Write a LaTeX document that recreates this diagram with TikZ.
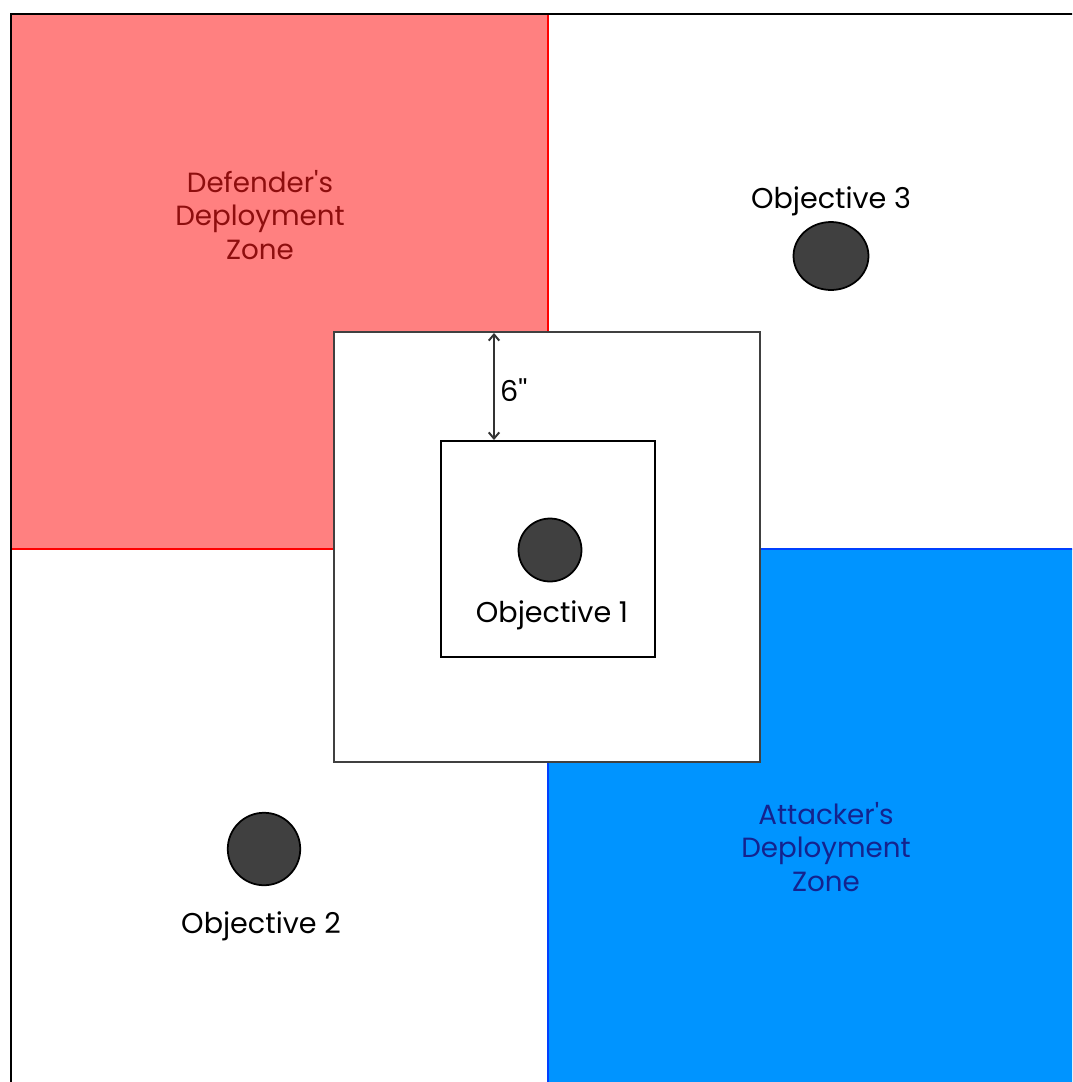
\documentclass[tikz,border=0pt]{standalone}
\usepackage{fontspec}
\setmainfont{Poppins}[Ligatures=TeXOff]
\usetikzlibrary{shapes.geometric,arrows.meta}
\definecolor{defzone}{HTML}{FF8080}
\definecolor{defline}{HTML}{FF0000}
\definecolor{deftext}{HTML}{8E0E0E}
\definecolor{attzone}{HTML}{0094FF}
\definecolor{attline}{HTML}{0040FF}
\definecolor{atttext}{HTML}{14238E}
\definecolor{objfill}{HTML}{404040}
\tikzset{
  objective/.style={draw=black, line width=1pt, fill=objfill, inner sep=0pt},
  objlabel/.style={font=\fontsize{16.3}{19}\selectfont, text=black, inner sep=0pt},
  zonelabel/.style={font=\fontsize{15.8}{19.3}\selectfont, align=center, inner sep=0pt}
}
\begin{document}
\begin{tikzpicture}[x=0.02cm, y=-0.02cm]
  \useasboundingbox (0,0) rectangle (1072,1082);
  \fill[white] (0,0) rectangle (1072,1082);
  \begin{scope}
    \clip (0,0) rectangle (1072,1082);
    % deployment zones
    \draw[defline, fill=defzone, line width=0.8pt] (11,14) rectangle (548,549);
    \draw[attline, fill=attzone, line width=0.8pt] (548,549) rectangle (1090,1100);
    % table edge
    \draw[black, line width=1.3pt] (11,1100) -- (11,14) -- (1090,14);
  \end{scope}
  % no man's land around objective 1
  \draw[draw=black!75, fill=white, line width=1pt] (334,332) rectangle (760,762);
  \draw[black, line width=1pt] (441,441) rectangle (655,657);
  \coordinate (top) at (494,333);
  \coordinate (bottom) at (494,440);
  \draw[{Straight Barb[length=3.5pt,width=6pt]}-{Straight Barb[length=3.5pt,width=6pt]}, black!80, line width=1.1pt] (top) -- (bottom)
    node[midway, right=3pt, objlabel, yshift=-2pt] {6''};
  % objectives
  \node[objective, circle, minimum size=1.26cm] (obj1) at (550,550) {};
  \node[objective, ellipse, minimum width=1.5cm, minimum height=1.36cm] (obj3) at (831,256) {};
  \node[objective, circle, minimum size=1.45cm] (obj2) at (264,849) {};
  \node[objlabel] (lbl1) at (552,615) {Objective 1};
  \node[objlabel] (lbl3) at (831,201) {Objective 3};
  \node[objlabel] (lbl2) at (261,926) {Objective 2};
  % zone labels
  \node[zonelabel, text=deftext] (def) at (260,215) {Defender's\\Deployment\\Zone};
  \node[zonelabel, text=atttext] (att) at (826,847) {Attacker's\\Deployment\\Zone};
\end{tikzpicture}
\end{document}
